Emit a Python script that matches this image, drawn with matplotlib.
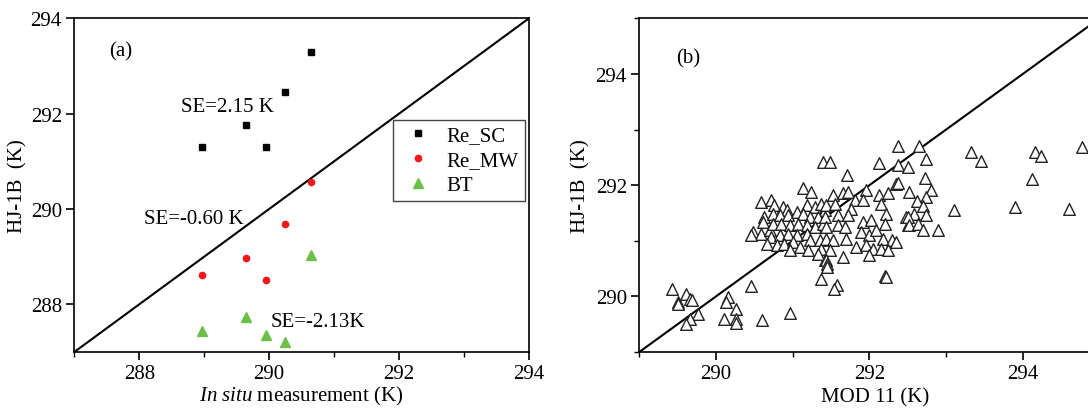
import matplotlib
matplotlib.use("Agg")
import matplotlib.pyplot as plt
from matplotlib.ticker import MultipleLocator

plt.rcParams['font.family'] = ['Liberation Serif', 'DejaVu Serif']
plt.rcParams['mathtext.fontset'] = 'custom'
plt.rcParams['mathtext.rm'] = 'Liberation Serif'
plt.rcParams['mathtext.it'] = 'Liberation Serif:italic'

# (a) in situ vs HJ-1B
insitu = [288.96, 289.65, 289.95, 290.25, 290.65]
re_sc = [291.31, 291.77, 291.31, 292.46, 293.29]
re_mw = [288.61, 288.97, 288.52, 289.69, 290.57]
bt = [287.44, 287.74, 287.35, 287.21, 289.03]

# (b) MOD11 vs HJ-1B
mod11 = [
    289.43, 289.61, 289.66, 289.69, 289.50, 289.50, 289.77, 289.66, 289.61,
    290.16, 290.13, 290.26, 290.10, 290.26, 290.26, 290.45, 290.60, 290.97,
    290.59, 290.72, 290.76, 290.87, 290.92, 291.13, 291.24, 291.18, 291.29,
    291.37, 291.42, 290.63, 290.61, 290.74, 290.83, 290.94, 291.05, 291.13,
    291.22, 291.33, 290.48, 290.59, 290.70, 290.74, 290.85, 290.96, 291.07,
    291.18, 291.29, 291.39, 290.72, 290.83, 290.94, 291.05, 291.18, 290.66,
    290.79, 290.89, 291.00, 291.22, 291.35, 291.09, 291.20, 291.37, 291.42,
    291.33, 290.96,
    291.39, 291.48, 292.12, 292.37, 291.71, 292.35, 291.53, 291.65, 291.72,
    291.96, 291.81, 291.92, 292.13, 292.24, 292.15, 292.22, 291.44, 291.55,
    291.76, 291.42, 291.59, 291.72, 291.92, 292.02, 292.20, 292.48, 292.50,
    291.44, 291.59, 291.68, 291.89, 292.00, 292.09, 292.18, 292.29, 291.44,
    291.52, 291.70, 291.83, 291.96, 292.05, 292.15, 292.24, 291.48, 291.66,
    292.00, 291.44,
    292.37, 292.64, 292.74, 292.50, 293.33, 292.73, 292.37, 292.51, 292.80,
    292.74, 292.62, 292.70, 293.10, 292.58, 292.74, 292.50, 292.52, 292.63,
    292.70, 292.89, 292.35,
    293.45, 294.16, 294.23, 294.12, 293.90, 294.60, 294.77,
    291.37, 291.58, 291.54, 291.45, 291.45, 292.20, 292.21, 290.46,
]
hj1b = [
    290.14, 290.04, 289.96, 289.93, 289.90, 289.87, 289.69, 289.60, 289.51,
    289.99, 289.90, 289.78, 289.60, 289.60, 289.52, 290.19, 289.58, 289.70,
    291.70, 291.73, 291.64, 291.61, 291.55, 291.94, 291.88, 291.64, 291.61,
    291.67, 291.55, 291.43, 291.34, 291.49, 291.46, 291.46, 291.52, 291.49,
    291.43, 291.43, 291.16, 291.13, 291.19, 291.31, 291.31, 291.28, 291.31,
    291.28, 291.25, 291.31, 291.07, 291.10, 291.13, 291.10, 291.13, 290.95,
    290.92, 290.95, 290.98, 291.01, 291.01, 290.89, 290.83, 290.86, 290.65,
    290.77, 290.83,
    292.41, 292.41, 292.39, 292.36, 292.18, 292.02, 291.82, 291.85, 291.88,
    291.91, 291.73, 291.73, 291.82, 291.85, 291.67, 291.49, 291.64, 291.67,
    291.58, 291.43, 291.46, 291.46, 291.34, 291.37, 291.31, 291.43, 291.28,
    291.25, 291.28, 291.25, 291.16, 291.10, 291.19, 291.04, 291.01, 291.04,
    291.01, 291.04, 290.89, 290.92, 290.86, 290.86, 290.83, 290.83, 290.71,
    290.74, 290.65,
    292.71, 292.71, 292.47, 292.32, 292.59, 292.12, 292.03, 291.88, 291.91,
    291.79, 291.72, 291.62, 291.56, 291.49, 291.46, 291.42, 291.28, 291.31,
    291.19, 291.20, 290.98,
    292.44, 292.59, 292.53, 292.11, 291.61, 291.58, 292.68,
    290.32, 290.20, 290.13, 290.59, 290.53, 290.36, 290.34, 291.10,
]
b_xticks = [290, 292, 294]

W, H = 1088, 410
fig = plt.figure(figsize=(W / 100, H / 100), dpi=100)

def style_axes(ax, fs=15):
    for sp in ax.spines.values():
        sp.set_linewidth(1.2)
    ax.tick_params(which='major', direction='out', length=6, width=1.2,
                   labelsize=fs, pad=3)
    ax.tick_params(which='minor', direction='out', length=3.5, width=1.0)
    ax.tick_params(top=False, right=False)

# panel (a)
ax1 = fig.add_axes([74.3 / W, (H - 353) / H, 454.7 / W, 333.7 / H])
ax1.plot([287, 294], [287, 294], color='black', lw=1.5, zorder=1)
ax1.plot(insitu, re_sc, 's', color='black', ms=4.5, label='Re_SC', zorder=3)
ax1.plot(insitu, re_mw, 'o', color='#f01818', ms=4.5, label='Re_MW', zorder=3)
ax1.plot(insitu, bt, '^', color='#6cc04a', ms=7, label='BT', zorder=3)
ax1.set_xlim(287, 294)
ax1.set_ylim(287, 294)
ax1.xaxis.set_major_locator(MultipleLocator(2))
ax1.xaxis.set_minor_locator(MultipleLocator(1))
ax1.yaxis.set_major_locator(MultipleLocator(2))
style_axes(ax1)
ax1.set_xlabel(r'$\it{In\ situ}$ measurement (K)', fontsize=15, labelpad=0)
ax1.set_ylabel('HJ-1B  (K)', fontsize=15, labelpad=2)
ax1.text(287.54, 293.31, '(a)', fontsize=15, va='center')
ax1.text(288.65, 292.16, 'SE=2.15 K', fontsize=15, va='center')
ax1.text(288.07, 289.79, 'SE=-0.60 K', fontsize=15, va='center')
ax1.text(290.02, 287.63, 'SE=-2.13K', fontsize=15, va='center')
leg = ax1.legend(loc='upper left', bbox_to_anchor=(0.70, 0.696), fontsize=15,
                 fancybox=False, framealpha=1, edgecolor='#444444',
                 handlelength=1.8, handletextpad=0.5, labelspacing=0.25,
                 borderpad=0.3, borderaxespad=0)
leg.get_frame().set_linewidth(1.0)

# panel (b), right side runs past the figure edge as in the source
ax2 = fig.add_axes([639.3 / W, (H - 353) / H, 537 / W, 333.7 / H])
ax2.plot([289, 296], [289, 296], color='black', lw=1.5, zorder=1)
ax2.scatter(mod11, hj1b, marker='^', s=70, facecolors='white',
            edgecolors='#222222', linewidths=1.0, zorder=2)
ax2.set_xlim(289, 296)
ax2.set_ylim(289, 295)
ax2.set_xticks(b_xticks)
ax2.xaxis.set_minor_locator(MultipleLocator(1))
ax2.yaxis.set_major_locator(MultipleLocator(2))
ax2.yaxis.set_minor_locator(MultipleLocator(1))
style_axes(ax2)
ax2.set_xlabel('MOD 11 (K)', fontsize=15)
ax2.xaxis.set_label_coords((875 - 639.3) / 537, -0.105)
ax2.xaxis.label.set_va('top')
ax2.set_ylabel('HJ-1B  (K)', fontsize=15, labelpad=4)
ax2.text(289.48, 294.28, '(b)', fontsize=15, va='center')

fig.savefig('out.png', dpi=100)
